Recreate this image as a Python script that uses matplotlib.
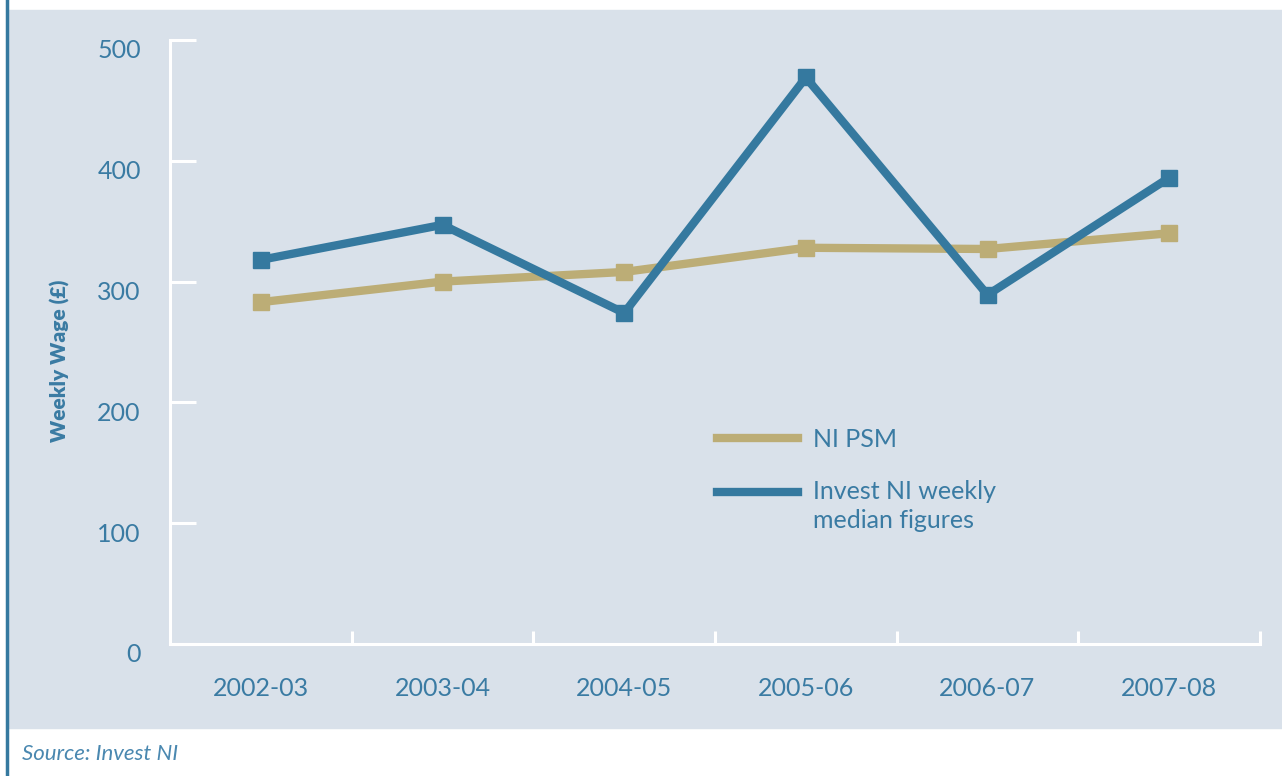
import matplotlib
matplotlib.use('Agg')
import matplotlib.pyplot as plt
import matplotlib.transforms as mtransforms
from matplotlib.lines import Line2D
from matplotlib.patches import Rectangle

years = ['2002-03', '2003-04', '2004-05', '2005-06', '2006-07', '2007-08']
ni_psm = [283, 300, 308, 328, 327, 340]
invest_ni = [318, 347, 274, 469, 289, 386]
yticks = [0, 100, 200, 300, 400, 500]

bg = '#d9e1ea'
blue = '#35799f'
tan = '#bcad76'
txt = '#3a7ba3'

plt.rcParams['font.family'] = ['Lato', 'DejaVu Sans']

fig = plt.figure(figsize=(12.82, 7.76), dpi=100)
fig.patch.set_facecolor('white')
# grey-blue panel and blue left rule
fig.patches.append(Rectangle((8/1282, 48/776), 1 - 8/1282, (718)/776,
                             transform=fig.transFigure, color=bg, zorder=-10))
fig.lines.append(Line2D([6.5/1282, 6.5/1282], [0, 1], transform=fig.transFigure,
                        color=blue, lw=2.5, zorder=-5))

ax = fig.add_axes([170/1282, 1 - 644/776, 1090/1282, 604/776])
ax.set_facecolor(bg)

x = list(range(len(years)))
ax.plot(x, ni_psm, color=tan, lw=6, marker='s', ms=12, solid_joinstyle='miter', zorder=3)
ax.plot(x, invest_ni, color=blue, lw=6, marker='s', ms=12, solid_joinstyle='miter', zorder=4)

ax.set_xlim(-0.5, 5.5)
ax.set_ylim(0, 500)

for s in ['top', 'right']:
    ax.spines[s].set_visible(False)
for s in ['left', 'bottom']:
    ax.spines[s].set_color('white')
    ax.spines[s].set_linewidth(2.2)

ax.set_yticks(yticks)
ax.tick_params(axis='y', direction='in', length=19, width=2.2, color='white',
               labelsize=18, labelcolor=txt, pad=21)
ax.set_xticks(x)
ax.set_xticklabels(years)
ax.set_xticks([i + 0.5 for i in x], minor=True)
ax.tick_params(axis='x', which='major', length=0, labelsize=18, labelcolor=txt, pad=24)
ax.tick_params(axis='x', which='minor', direction='in', length=9.5, width=2.2, color='white')

off = mtransforms.ScaledTranslation(0, -9/100, fig.dpi_scale_trans)
for lab in ax.get_yticklabels():
    lab.set_transform(lab.get_transform() + off)

fig.text(60/1282, 1 - 361/776, 'Weekly Wage (£)', rotation=90, ha='center', va='center',
         fontsize=15, fontweight='heavy', color=txt)

handles = [Line2D([], [], color=tan, lw=6), Line2D([], [], color=blue, lw=6)]
leg = ax.legend(handles, ['NI PSM', 'Invest NI weekly\nmedian figures'], loc='upper left',
                bbox_to_anchor=(0.481, 0.395), frameon=False, fontsize=18, labelcolor=txt,
                handlelength=3.25, handletextpad=0.6, labelspacing=0.58)
# first line of the two-line label sits level with its handle
t2 = leg.get_texts()[1]
t2.set_linespacing(1.3)
t2.set_transform(t2.get_transform() +
                 mtransforms.ScaledTranslation(0, -15/100, fig.dpi_scale_trans))

fig.text(22/1282, 1 - 754/776, 'Source: Invest NI', style='italic', fontsize=16,
         color='#4a88b0', va='center')

fig.savefig('out.png', dpi=100)
